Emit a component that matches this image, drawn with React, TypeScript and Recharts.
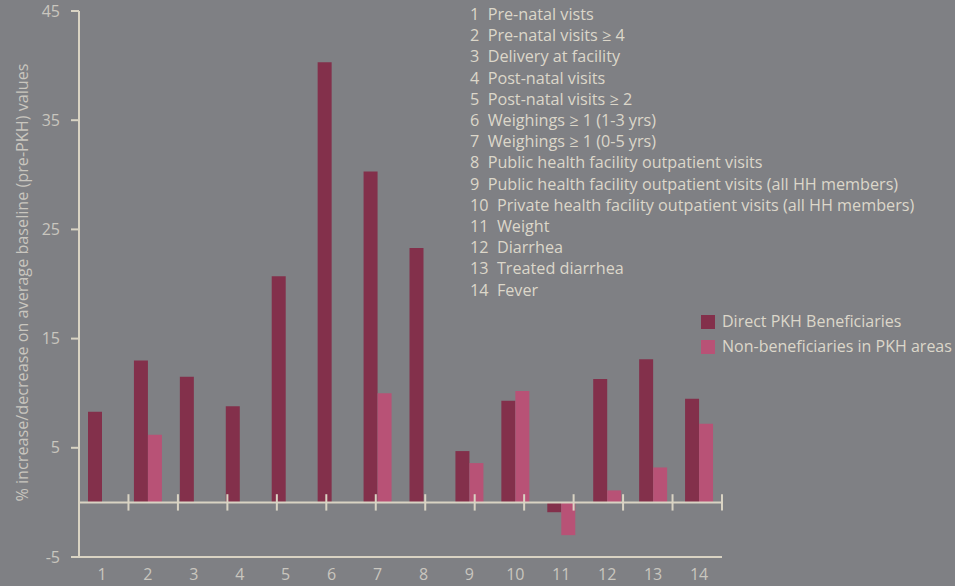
import React from 'react';
import { BarChart, Bar, XAxis, YAxis, ReferenceLine, Legend } from 'recharts';

const categories = ['1', '2', '3', '4', '5', '6', '7', '8', '9', '10', '11', '12', '13', '14'];
const directBeneficiaries = [8.3, 13.0, 11.5, 8.8, 20.7, 40.3, 30.3, 23.3, 4.7, 9.3, -0.9, 11.3, 13.1, 9.5];
const nonBeneficiaries = [null, 6.2, null, null, null, null, 10.0, null, 3.6, 10.2, -3.0, 1.1, 3.2, 7.2];
const indicatorLabels = [
  'Pre-natal vists',
  'Pre-natal visits \u2265 4',
  'Delivery at facility',
  'Post-natal visits',
  'Post-natal visits \u2265 2',
  'Weighings \u2265 1 (1-3 yrs)',
  'Weighings \u2265 1 (0-5 yrs)',
  'Public health facility outpatient visits',
  'Public health facility outpatient visits (all HH members)',
  'Private health facility outpatient visits (all HH members)',
  'Weight',
  'Diarrhea',
  'Treated diarrhea',
  'Fever',
];
const seriesNames = ['Direct PKH Beneficiaries', 'Non-beneficiaries in PKH areas'];
const yTicks = [-5, 5, 15, 25, 35, 45];
const yAxisTitle = '% increase/decrease on average baseline (pre-PKH) values';

const BG = '#7f8084';
const DARK = '#83304b';
const LIGHT = '#b85276';
const AXIS = '#d9d3c3';
const TICK_TEXT = '#c9c6bf';
const LIST_TEXT = '#dcd7ca';
const FONT = '"Open Sans", sans-serif';

const data = categories.map((c, i) => ({
  cat: c,
  direct: directBeneficiaries[i],
  non: nonBeneficiaries[i],
}));

const boundaries = categories.map((_, i) => i + 1);

const YTitle = (props: any) => {
  const vb = props.viewBox || { x: 0, y: 11, width: 79, height: 546 };
  const cx = vb.x + 22;
  const cy = vb.y + vb.height / 2 - 1.5;
  return (
    <text
      x={cx}
      y={cy}
      transform={`rotate(-90, ${cx}, ${cy})`}
      textAnchor="middle"
      dominantBaseline="central"
      fill={TICK_TEXT}
      fontSize={16.2}
      fontFamily={FONT}
    >
      {yAxisTitle}
    </text>
  );
};

const LegendContent = (props: any) => {
  const payload = props.payload || [];
  return (
    <div style={{ fontFamily: FONT }}>
      {payload.map((p: any, i: number) => (
        <div key={i} style={{ display: 'flex', alignItems: 'center', height: 25 }}>
          <span style={{ display: 'inline-block', width: 14, height: 14, background: p.color, marginRight: 7 }} />
          <span style={{ color: LIST_TEXT, fontSize: 16, lineHeight: '25px', whiteSpace: 'nowrap' }}>{p.value}</span>
        </div>
      ))}
    </div>
  );
};

export default function App() {
  return (
    <div
      style={{
        position: 'fixed',
        left: 0,
        top: 0,
        width: 955,
        height: 586,
        background: BG,
        fontFamily: FONT,
        overflow: 'hidden',
      }}
    >
      <BarChart
        width={955}
        height={586}
        data={data}
        margin={{ top: 11, right: 233, bottom: 0, left: 0 }}
        barGap={0}
        barSize={14}
      >
        <XAxis
          dataKey="cat"
          axisLine={{ stroke: AXIS, strokeWidth: 2 }}
          tickLine={false}
          tickSize={6}
          tickMargin={6}
          height={29}
          interval={0}
          tick={{ fill: TICK_TEXT, fontSize: 16, fontFamily: FONT }}
        />
        <XAxis xAxisId="grid" type="number" domain={[0, 14]} hide />
        <YAxis
          domain={[-5, 45]}
          ticks={yTicks}
          width={79}
          axisLine={{ stroke: AXIS, strokeWidth: 2 }}
          tickLine={{ stroke: AXIS, strokeWidth: 2 }}
          tickSize={8}
          tickMargin={11}
          tick={{ fill: TICK_TEXT, fontSize: 16, fontFamily: FONT }}
          label={(p: any) => <YTitle {...p} />}
        />
        <Legend
          layout="horizontal"
          verticalAlign="middle"
          align="center"
          content={<LegendContent />}
          wrapperStyle={{ position: 'absolute', left: 701, top: 309, width: 254 }}
        />
        <Bar dataKey="direct" name={seriesNames[0]} fill={DARK} isAnimationActive={false} />
        <Bar dataKey="non" name={seriesNames[1]} fill={LIGHT} isAnimationActive={false} />
        <ReferenceLine y={0} stroke={AXIS} strokeWidth={2} />
        {boundaries.map((b) => (
          <ReferenceLine
            key={b}
            xAxisId="grid"
            segment={[
              { x: b, y: -0.75 },
              { x: b, y: 0.75 },
            ]}
            stroke={AXIS}
            strokeWidth={2}
          />
        ))}
      </BarChart>
      <div
        style={{
          position: 'absolute',
          left: 470,
          top: 4,
          color: LIST_TEXT,
          fontSize: 16.2,
          lineHeight: '21.2px',
          whiteSpace: 'pre',
          fontFamily: FONT,
        }}
      >
        {indicatorLabels.map((t, i) => (
          <div key={i}>{`${categories[i]}  ${t}`}</div>
        ))}
      </div>
    </div>
  );
}
